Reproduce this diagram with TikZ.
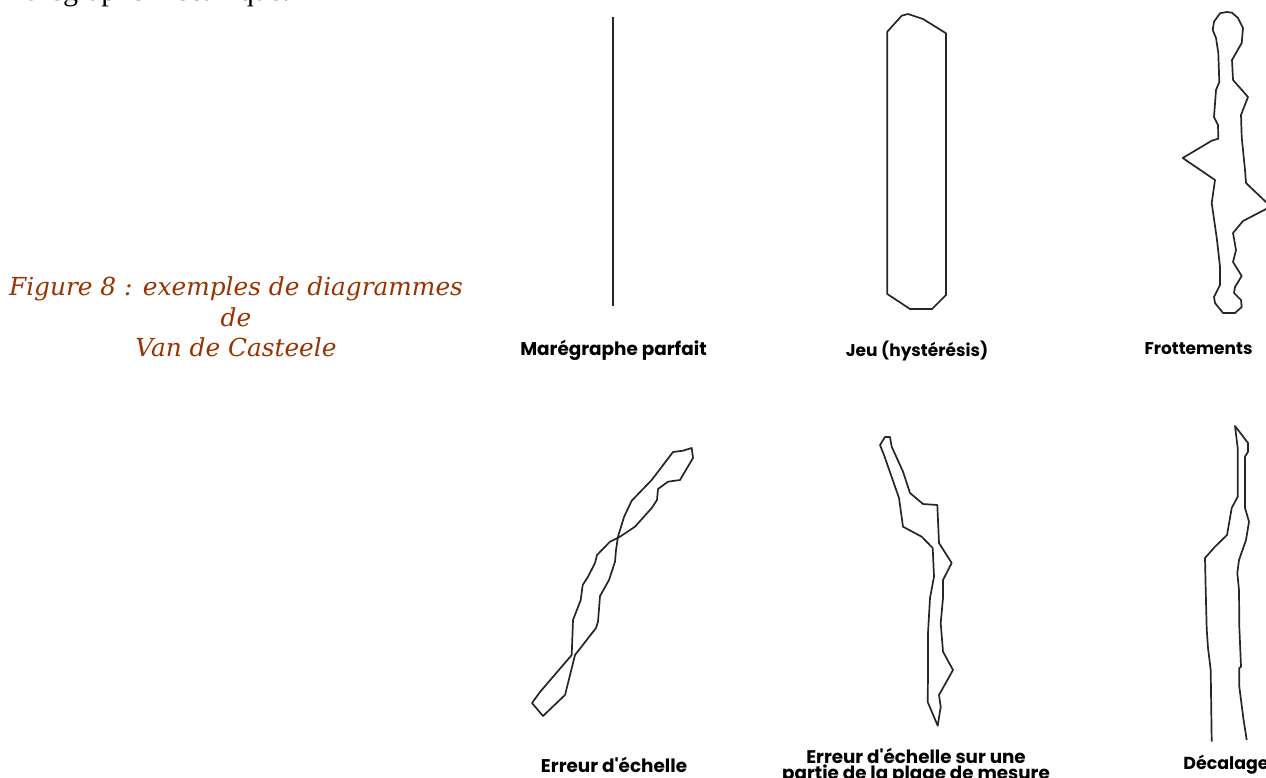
\documentclass[tikz,border=0pt]{standalone}
\usepackage{fontspec}
\setmainfont{Liberation Serif}
\newfontfamily\legendfont[BoldFont={* Bold}]{Poppins}
\newfontfamily\figurefont{DejaVu Serif}
\definecolor{figbrown}{HTML}{993300}

\begin{document}
\begin{tikzpicture}[
  x=1pt, y=-1pt,
  outline/.style={draw=black!85, line width=1.7pt, line join=round},
  legend/.style={font=\legendfont\bfseries\fontsize{#1}{13}\selectfont, align=center, inner sep=0pt},
  figcaption/.style={font=\figurefont\itshape\fontsize{24.8}{30.5}\selectfont, text=figbrown, align=center, inner sep=0pt}
]
\useasboundingbox (0,0) rectangle (1266,778);
\clip (0,0) rectangle (1266,778);

\node[anchor=base west, inner sep=0pt, font=\fontsize{30}{32}\selectfont] (head) at (3,0.5) {marégraphe mécanique.};
\node[figcaption] (fig8) at (236,317) {Figure 8 : exemples de diagrammes\\de\\Van de Casteele};

% top row
\draw[outline] (613.2,17) -- (613.2,306);
\draw[outline] (887.3,31.7) -- (901.7,15.7) -- (908,14) -- (923,19) -- (946,33.3) -- (946,295)
  -- (932,309) -- (910,309) -- (887.3,294) -- cycle;
\draw[outline] (1226.7,12) -- (1220,13.3) -- (1214,21.7) -- (1212.7,30) -- (1216,38) -- (1218.3,53)
  -- (1219.3,82) -- (1216,90) -- (1214,117) -- (1218,125) -- (1218.3,138.7) -- (1211.7,140.7)
  -- (1182.7,158) -- (1215,180) -- (1211.7,203) -- (1217,240) -- (1220,267) -- (1220,285)
  -- (1214,297) -- (1215,303) -- (1223,313) -- (1235,313) -- (1241.7,307) -- (1241,300)
  -- (1234,293) -- (1235,287) -- (1241.7,276) -- (1233,262) -- (1236,250) -- (1233,233)
  -- (1243,221) -- (1268,208) -- (1268,204) -- (1246,183) -- (1245,170) -- (1241.7,137)
  -- (1241,115) -- (1248,97) -- (1233,80) -- (1232,60) -- (1241.7,43) -- (1243,28)
  -- (1238,18) -- (1232,12.7) -- cycle;

% bottom row
\draw[outline] (691.7,448) -- (683,450.7) -- (673,452) -- (651.7,480) -- (631.7,500.7) -- (624,517)
  -- (618,536.7) -- (616,550) -- (615,561.7) -- (609,580) -- (600,596) -- (598,621.7) -- (596,628)
  -- (575,655) -- (565,695) -- (543,716) -- (532,703) -- (540,692) -- (571.7,655) -- (573,620)
  -- (580.7,600) -- (582.7,585) -- (588,576.7) -- (595,563) -- (597,555) -- (610,541.7)
  -- (620,536.7) -- (635,526.7) -- (651.7,508) -- (657,500) -- (658,489) -- (668,481.7)
  -- (680,480) -- (693,458) -- cycle;
\draw[outline] (890,437) -- (885,437) -- (880,445) -- (884,455) -- (899,498) -- (903,526.7)
  -- (921.7,536.7) -- (932.7,548) -- (934,576.7) -- (930,598) -- (928,633) -- (928,673)
  -- (927.7,702) -- (937.7,725.7) -- (940.7,706.7) -- (939,695) -- (953,670) -- (943,651.7)
  -- (940.7,623) -- (943,598) -- (943,580) -- (951.7,563) -- (939,543) -- (937.3,505)
  -- (923,504) -- (910,493) -- (903,471.7) -- (891.7,446.7) -- cycle;
\draw[outline] (1211.7,741.7) -- (1210.7,670) -- (1208,648) -- (1206.7,629) -- (1205.7,590)
  -- (1205,558) -- (1215,546.7) -- (1227,535) -- (1231.7,508) -- (1237.7,496.7) -- (1237.7,448)
  -- (1235,426) -- (1248,443) -- (1248,451.7) -- (1245,456.7) -- (1245,508) -- (1249,521.7)
  -- (1246,540) -- (1239,560) -- (1237.3,573) -- (1239,590) -- (1239.3,626.7) -- (1241,666.7)
  -- (1239.3,668) -- (1239.3,686.7) -- (1243.3,718) -- (1246.7,740);

\foreach \name/\xpos/\ypos/\fs/\txt in {parfait/613.5/350.5/18.4/Marégraphe parfait, jeu/917/350.5/17/Jeu (hystérésis),
    frott/1198.5/349/17/Frottements, echelle/614/764.5/18.4/Erreur d'échelle, decal/1226/765/17.4/Décalage}
  \node[legend=\fs] (\name) at (\xpos,\ypos) {\txt};
\node[legend=18.3] (partie) at (916,766) {Erreur d'échelle sur une\\partie de la plage de mesure};
\end{tikzpicture}
\end{document}
